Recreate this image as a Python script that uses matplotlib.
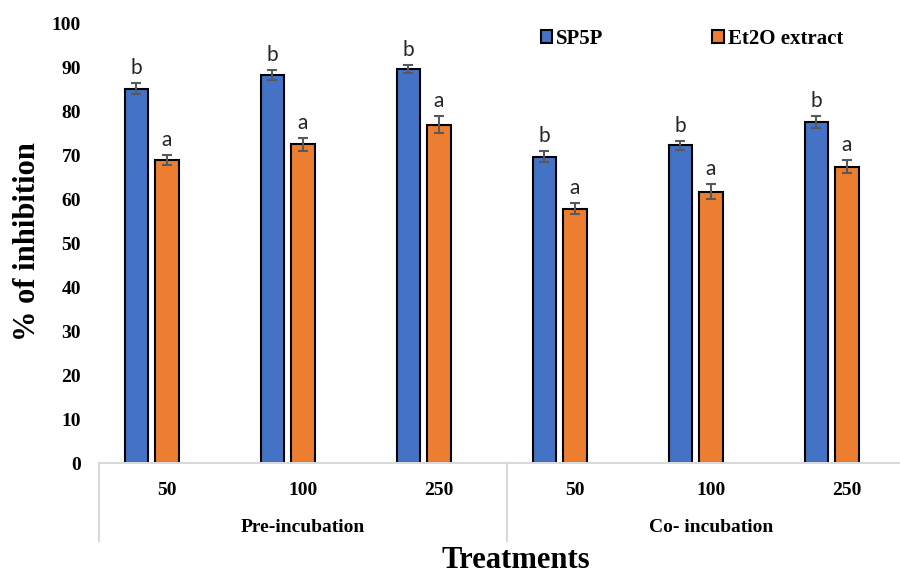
import numpy as np
import matplotlib
matplotlib.use("Agg")
import matplotlib.pyplot as plt
import matplotlib.transforms as mtransforms

doses = ["50", "100", "250", "50", "100", "250"]
groups = ["Pre-incubation", "Co- incubation"]
series = ["SP5P", "Et2O extract"]

sp5p = [85.2, 88.4, 89.7, 69.8, 72.4, 77.6]
sp5p_err = [1.25, 1.15, 0.95, 1.2, 1.05, 1.4]
et2o = [69.0, 72.6, 77.1, 57.9, 61.8, 67.5]
et2o_err = [1.05, 1.5, 2.0, 1.25, 1.7, 1.45]
sp5p_letters = ["b", "b", "b", "b", "b", "b"]
et2o_letters = ["a", "a", "a", "a", "a", "a"]

BLUE = "#4472C4"
ORANGE = "#ED7D31"
GRID = "#D9D9D9"
SERIF = "Liberation Serif"

W, H = 900, 577
fig = plt.figure(figsize=(W / 100, H / 100), dpi=100)
# axes runs a little past the right edge, as in the cropped original
ax = fig.add_axes([99 / W, (H - 463) / H, 816 / W, (463 - 24) / H])

x = np.arange(len(doses))
bw = 0.175
err_kw = dict(ecolor="#595959", elinewidth=1.5, capsize=3.5, capthick=1.5)
b1 = ax.bar(x - 0.225, sp5p, bw, yerr=sp5p_err, color=BLUE, edgecolor="black",
            linewidth=1.5, error_kw=err_kw, label=series[0])
b2 = ax.bar(x, et2o, bw, yerr=et2o_err, color=ORANGE, edgecolor="black",
            linewidth=1.5, error_kw=err_kw, label=series[1])

# significance letters above the error bars
for xs, vals, errs, letters in [(x - 0.225, sp5p, sp5p_err, sp5p_letters),
                                (x, et2o, et2o_err, et2o_letters)]:
    for xi, v, e, l in zip(xs, vals, errs, letters):
        ax.annotate(l, (xi, v + e), xytext=(0, 6.5), textcoords="offset points",
                    ha="center", va="baseline", fontsize=15, family="Lato",
                    color="#262626")

ax.set_xlim(-0.5, 5.5)
ax.set_ylim(0, 100)
ax.set_yticks(np.arange(0, 101, 10))
ax.set_xticks(x)
ax.set_xticklabels(doses)
for lab in ax.get_xticklabels() + ax.get_yticklabels():
    lab.set_family(SERIF)
    lab.set_fontweight("bold")
    lab.set_fontsize(14)
ax.tick_params(axis="y", length=0, pad=13)
ax.tick_params(axis="x", length=0, pad=14)

for s in ["top", "right", "left"]:
    ax.spines[s].set_visible(False)
ax.spines["bottom"].set_color(GRID)
ax.spines["bottom"].set_linewidth(1.5)

# category box lines under the axis
trans = mtransforms.blended_transform_factory(ax.transData, ax.transAxes)
depth = (541 - 463) / (463 - 24)
for xv in [-0.5, 2.5, 5.5]:
    ax.plot([xv, xv], [0, -depth], transform=trans, color=GRID, lw=1.5,
            clip_on=False)
for i, g in enumerate(groups):
    ax.text(1 + 3 * i, -(527 - 463) / (463 - 24), g, transform=trans,
            ha="center", va="center", family=SERIF, fontweight="bold",
            fontsize=14)

fig.text(28 / W, 1 - 242 / H, "% of inhibition", rotation=90, ha="center",
         va="center", family=SERIF, fontweight="bold", fontsize=22)
fig.text(516 / W, 1 - 561 / H, "Treatments", ha="center", va="center",
         family=SERIF, fontweight="bold", fontsize=22)

fig.legend(handles=[b1, b2], labels=series, loc="center left",
           bbox_to_anchor=(522 / W, 1 - 39 / H), ncol=2, frameon=False,
           handlelength=0.55, handleheight=0.55, handletextpad=0.2,
           columnspacing=5.2, prop=dict(family=SERIF, weight="bold", size=15))

fig.savefig("out.png", dpi=100)
